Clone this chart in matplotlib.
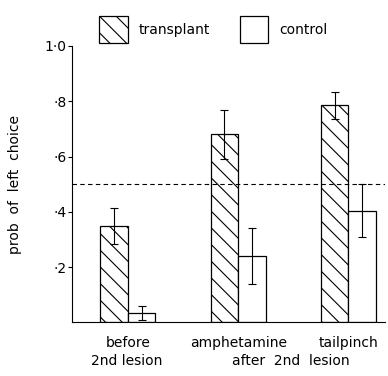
import numpy as np
import matplotlib.pyplot as plt
from matplotlib.patches import Patch

# data
groups = ["before", "amphetamine", "tailpinch"]
transplant = [0.35, 0.68, 0.785]
transplant_err = [0.065, 0.09, 0.05]
control = [0.035, 0.24, 0.405]
control_err = [0.025, 0.10, 0.095]
yticks = [0.2, 0.4, 0.6, 0.8, 1.0]
ytick_labels = ["·2", "·4", "·6", "·8", "1·0"]

plt.rcParams['font.family'] = 'DejaVu Sans'
plt.rcParams['hatch.linewidth'] = 0.8

fig = plt.figure(figsize=(3.88, 3.76), dpi=100)
ax = fig.add_axes([0.1856, 0.1423, 0.806, 0.7354])

x = np.arange(len(groups))
w = 0.25
ax.bar(x - w/2, transplant, w, yerr=transplant_err, color='white', edgecolor='black',
       hatch='\\\\', linewidth=0.9, capsize=3,
       error_kw=dict(elinewidth=0.8, capthick=0.8, ecolor='black'))
ax.bar(x + w/2, control, w, yerr=control_err, color='white', edgecolor='black',
       linewidth=0.9, capsize=3,
       error_kw=dict(elinewidth=0.8, capthick=0.8, ecolor='black'))

ax.axhline(0.5, color='black', linestyle=(0, (4, 3)), linewidth=0.8)

ax.set_xlim(-0.507, 2.33)
ax.set_ylim(0, 1.0)
ax.set_yticks(yticks)
ax.set_yticklabels(ytick_labels, fontsize=10)
ax.tick_params(axis='y', direction='out', length=3, width=0.8, pad=1)
ax.set_xticks(x)
ax.set_xticklabels(groups, fontsize=10)
ax.tick_params(axis='x', length=0, pad=10)
for s in ['top', 'right']:
    ax.spines[s].set_visible(False)
ax.spines['left'].set_linewidth(0.8)
ax.spines['bottom'].set_linewidth(0.8)

ax.set_ylabel("prob  of  left  choice", fontsize=10, labelpad=16)
fig.text(0.327, 0.03, "2nd lesion", ha='center', fontsize=10)
fig.text(0.75, 0.03, "after  2nd  lesion", ha='center', fontsize=10)

handles = [Patch(facecolor='white', edgecolor='black', hatch='\\\\', linewidth=0.9),
           Patch(facecolor='white', edgecolor='black', linewidth=0.9)]
fig.legend(handles, ["transplant", "control"], loc='upper left',
           bbox_to_anchor=(0.224, 0.992), ncol=2, frameon=False, fontsize=10,
           handlelength=2.05, handleheight=2.7, columnspacing=2.1, handletextpad=0.8)

fig.savefig("out.png", dpi=100)
